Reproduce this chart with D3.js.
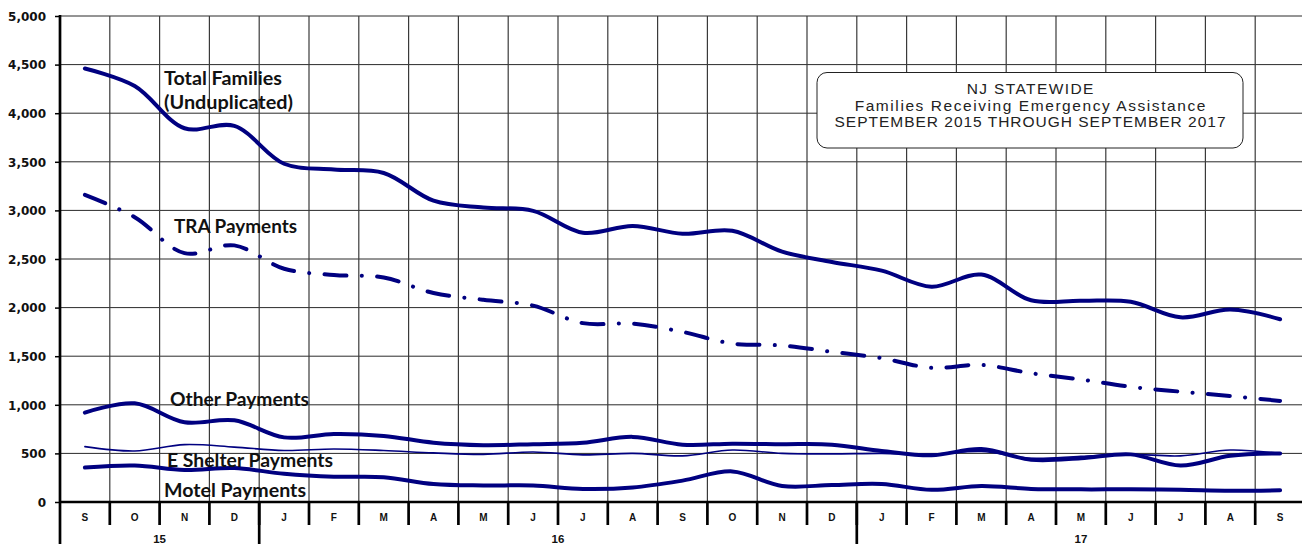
<!DOCTYPE html>
<html><head><meta charset="utf-8">
<script src="https://cdn.jsdelivr.net/npm/d3@7"></script>
<style>
html,body{margin:0;padding:0;background:#fff;overflow:hidden;}
svg{display:block;}
</style></head>
<body>
<svg id="chart" width="1302" height="544"></svg>
<script>
// ---- data ----
const months = ["S","O","N","D","J","F","M","A","M","J","J","A","S","O","N","D","J","F","M","A","M","J","J","A","S"];
const years = [{label:"15", start:0, end:4},{label:"16", start:4, end:16},{label:"17", start:16, end:25}];
const totalFamilies = [4460,4280,3845,3870,3480,3420,3385,3100,3030,2995,2770,2840,2760,2790,2575,2470,2380,2215,2340,2075,2070,2060,1900,1980,1880];
const traPayments   = [3160,2930,2560,2640,2400,2335,2310,2150,2080,2020,1840,1835,1750,1630,1610,1545,1480,1380,1410,1325,1260,1185,1135,1090,1040];
const otherPayments = [920,1015,820,840,665,700,680,610,585,595,610,670,590,600,595,590,525,480,545,435,450,490,375,475,500];
const eShelterPayments = [570,525,590,565,530,545,530,505,490,515,485,500,475,535,500,495,500,490,520,450,470,490,475,535,500];
const motelPayments = [355,375,330,350,290,260,255,185,170,170,135,150,220,315,165,175,185,125,165,135,130,130,125,115,120];
const yTicks = [0,500,1000,1500,2000,2500,3000,3500,4000,4500,5000];
const titleLines = ["NJ STATEWIDE","Families Receiving Emergency Assistance","SEPTEMBER 2015 THROUGH SEPTEMBER 2017"];

const svg = d3.select("#chart");
const x = d3.scaleBand().domain(d3.range(months.length)).range([60, 1305]).padding(0);
const y = d3.scaleLinear().domain([0, 5000]).range([502, 16]);
const cx = i => x(i) + x.bandwidth()/2;
const edge = i => (i < months.length ? x(i) : 1305);
const navy = "#000080";

// gridlines
const grid = svg.append("g");
grid.selectAll("line.h").data(yTicks).join("line")
  .attr("x1", 60).attr("x2", 1302)
  .attr("y1", d => y(d)).attr("y2", d => y(d))
  .attr("stroke", "#2a2a2a").attr("stroke-width", 1);
grid.selectAll("line.v").data(d3.range(1, months.length)).join("line")
  .attr("x1", edge).attr("x2", edge)
  .attr("y1", y(5000)).attr("y2", y(0))
  .attr("stroke", "#3a3a3a").attr("stroke-width", 1.2);

// y axis
const yAxis = d3.axisLeft(y).tickValues(yTicks).tickFormat(d3.format(",")).tickSize(5).tickPadding(8);
const yg = svg.append("g").attr("transform", "translate(60,0)").call(yAxis);
yg.select(".domain").remove();
yg.selectAll(".tick line").attr("stroke", "#000").attr("stroke-width", 1.5);
yg.selectAll(".tick text").attr("font-family", "'DejaVu Sans', Arial, sans-serif")
  .attr("font-weight", "bold").attr("font-size", 12).attr("fill", "#111").attr("dy", "0.35em").attr("x", -14);
svg.append("line").attr("x1", 60).attr("x2", 60).attr("y1", 15).attr("y2", 544)
  .attr("stroke", "#000").attr("stroke-width", 2.7);

// x axis
const xAxis = d3.axisBottom(x).tickFormat(i => months[i]).tickSize(0).tickPadding(0);
const xg = svg.append("g").attr("transform", "translate(0,502)").call(xAxis);
xg.select(".domain").remove();
xg.selectAll(".tick text").attr("font-family", "Arial, 'Liberation Sans', sans-serif")
  .attr("font-weight", "bold").attr("font-size", 10).attr("fill", "#111").attr("y", 18.5).attr("dy", 0);
svg.append("line").attr("x1", 60).attr("x2", 1302).attr("y1", 502).attr("y2", 502)
  .attr("stroke", "#000").attr("stroke-width", 2.7);
svg.selectAll("line.mtick").data(d3.range(1, months.length)).join("line")
  .attr("x1", i => x(i)).attr("x2", i => x(i))
  .attr("y1", 502).attr("y2", 525).attr("stroke", "#000").attr("stroke-width", 2.7);
svg.selectAll("line.ysep").data(years.slice(1)).join("line")
  .attr("x1", d => x(d.start)).attr("x2", d => x(d.start))
  .attr("y1", 502).attr("y2", 544).attr("stroke", "#000").attr("stroke-width", 2.7);
svg.selectAll("text.year").data(years).join("text")
  .attr("x", d => (x(d.start) + edge(d.end)) / 2)
  .attr("y", 543).attr("text-anchor", "middle")
  .attr("font-family", "Arial, 'Liberation Sans', sans-serif").attr("font-weight", "bold")
  .attr("font-size", 11.5).attr("fill", "#111").text(d => d.label);

// lines
const line = d3.line().x((d, i) => cx(i)).y(d => y(d)).curve(d3.curveCatmullRom.alpha(0.5));
const series = [
  {data: totalFamilies, w: 4, dash: null},
  {data: traPayments, w: 4, dash: "22,15.3,0.1,15.3"},
  {data: otherPayments, w: 4, dash: null},
  {data: eShelterPayments, w: 1.6, dash: null},
  {data: motelPayments, w: 4, dash: null}
];
svg.append("g").selectAll("path").data(series).join("path")
  .attr("d", d => line(d.data)).attr("fill", "none").attr("stroke", navy)
  .attr("stroke-width", d => d.w).attr("stroke-linecap", "round")
  .attr("stroke-dasharray", d => d.dash);

// series labels
const labels = [
  {t: "Total Families", x: 164, y: 85, w: 118},
  {t: "(Unduplicated)", x: 164, y: 109, w: 129},
  {t: "TRA Payments", x: 174, y: 233, w: 123},
  {t: "Other Payments", x: 170, y: 406, w: 139},
  {t: "E Shelter Payments", x: 167, y: 467, w: 166},
  {t: "Motel Payments", x: 164, y: 497, w: 142}
];
svg.append("g").selectAll("text").data(labels).join("text")
  .attr("x", d => d.x).attr("y", d => d.y)
  .attr("textLength", d => d.w).attr("lengthAdjust", "spacingAndGlyphs")
  .attr("font-family", "Lato, 'Open Sans', sans-serif").attr("font-weight", "bold")
  .attr("font-size", 18).attr("fill", "#111").text(d => d.t);

// title box
const tb = svg.append("g");
tb.append("rect").attr("x", 817).attr("y", 72.5).attr("width", 426).attr("height", 75.5)
  .attr("rx", 10).attr("ry", 10).attr("fill", "#fff").attr("stroke", "#222").attr("stroke-width", 1);
const tl = [{w: 126.7, y: 93.8}, {w: 350.7, y: 110.8}, {w: 391, y: 127}];
tb.selectAll("text").data(titleLines).join("text")
  .attr("x", 1030).attr("y", (d, i) => tl[i].y).attr("text-anchor", "middle")
  .attr("textLength", (d, i) => tl[i].w).attr("lengthAdjust", "spacing")
  .attr("font-family", "Arial, 'Liberation Sans', sans-serif").attr("font-size", 15.5)
  .attr("fill", "#222").text(d => d);
</script>
</body></html>
